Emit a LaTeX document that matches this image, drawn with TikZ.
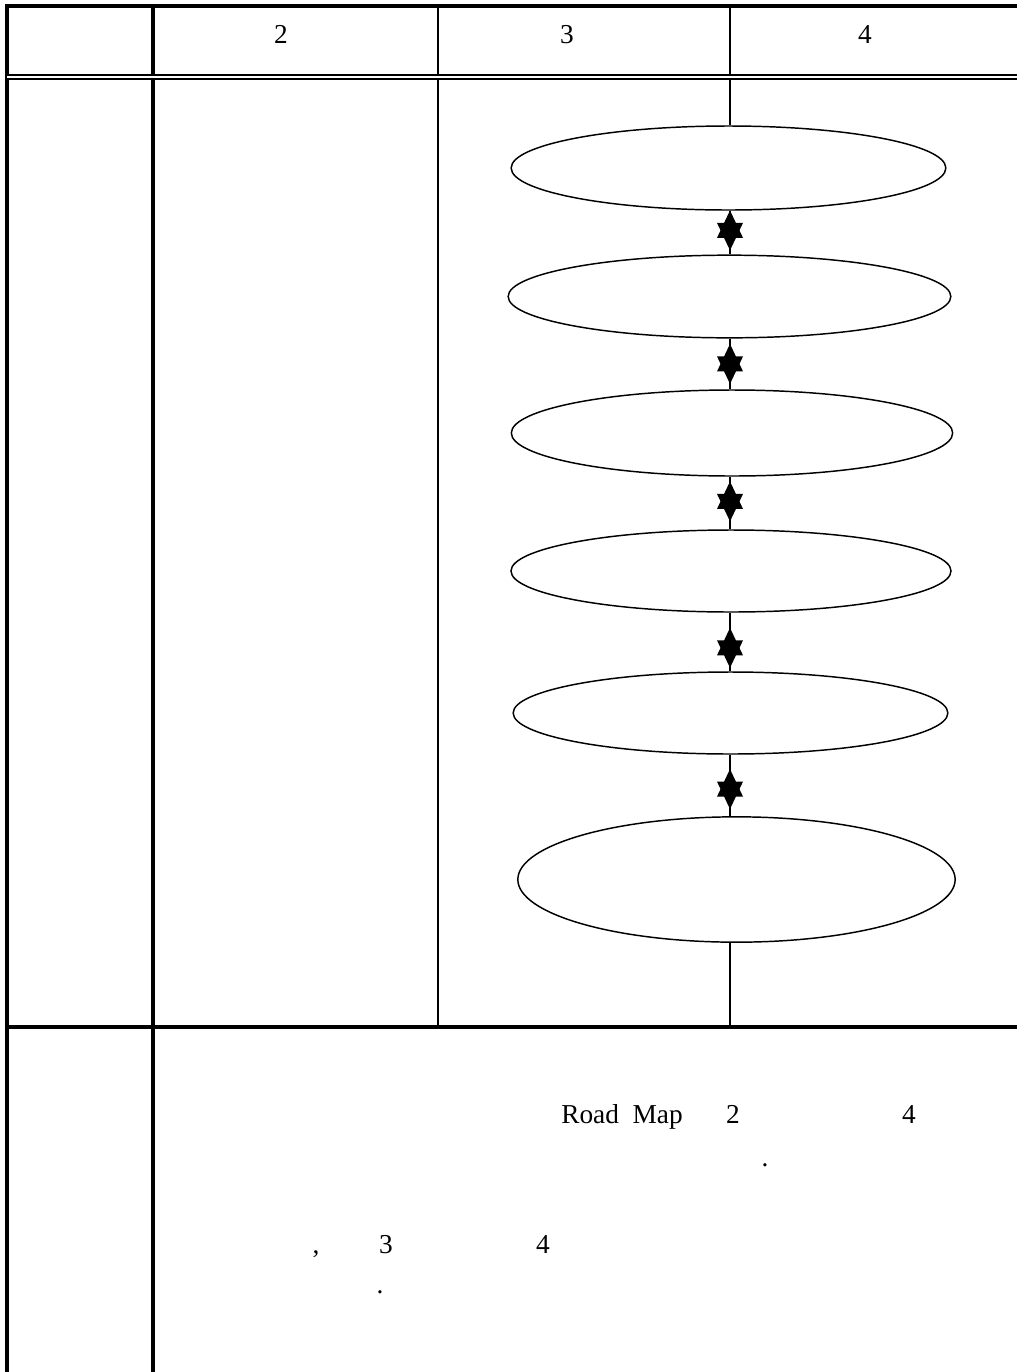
\documentclass[tikz,border=0pt]{standalone}
\usepackage{fontspec}
\setmainfont{Liberation Serif}
\usetikzlibrary{positioning,shapes.geometric}

\tikzset{
  rulethick/.style={line width=3pt},
  ruleleft/.style={line width=2.3pt},
  rulethin/.style={line width=1.1pt},
  stage/.style={draw, ellipse, fill=white, line width=1.1pt, inner sep=0pt},
  cell/.style={anchor=base, inner sep=0pt, font=\fontsize{20.5}{24}\selectfont},
  hexmark/.pic={
    \fill (0,-20) -- (13,7.5) -- (-13,7.5) -- cycle;
    \fill (0,20) -- (13,-7.5) -- (-13,-7.5) -- cycle;
  }
}

\begin{document}
\begin{tikzpicture}[x=0.75pt,y=-0.75pt]
\useasboundingbox (0,0) rectangle (1017,1372);
% Frame of the table
\coordinate []  (TL) at (5,6) ;
\coordinate []  (TR) at (1017,6) ;
\coordinate []  (LB) at (7,1372) ;
\coordinate []  (C1top) at (153,6) ;
\coordinate []  (C1bot) at (153,1372) ;
\coordinate []  (C2top) at (438,6) ;
\coordinate []  (C2bot) at (438,1027) ;
\coordinate []  (C3top) at (730,6) ;
\coordinate []  (HL) at (7,77) ;
\coordinate []  (HR) at (1017,77) ;
\coordinate []  (ML) at (5,1027) ;
\coordinate []  (MR) at (1017,1027) ;
\draw[rulethin] (C2top) -- (C2bot);
\draw[rulethick] (C1top) -- (C1bot);
\draw[ruleleft] (TL -| LB) -- (LB);
\draw[rulethick] (TL) -- (TR);
\draw[rulethick] (ML) -- (MR);
% Header row
\node[cell] (h2) at (281,43) {2};
\node[cell] (h3) at (567,43) {3};
\node[cell] (h4) at (865,43) {4};
% Stages
\node[stage, minimum width=326pt, minimum height=63pt] (e1) at (728.5,168) {};
\node[stage, minimum width=332pt, minimum height=62pt] (e2) at (729.5,296.5) {};
\node[stage, minimum width=331pt, minimum height=64.5pt] (e3) at (732,433) {};
\node[stage, minimum width=330pt, minimum height=61.5pt] (e4) at (731,571) {};
\node[stage, minimum width=326pt, minimum height=61.5pt] (e5) at (730.5,713) {};
\node[stage, minimum width=328pt, minimum height=94pt] (e6) at (736.5,879.5) {};
\draw[rulethin] (C3top) -- (C3top |- e1.north);
\foreach \a/\b/\p in {e1/e2/0.45, e2/e3/0.5, e3/e4/0.47, e4/e5/0.6, e5/e6/0.56} {
  \draw[rulethin] (C3top |- \a.south) -- coordinate[pos=\p] (\a-mk) (C3top |- \b.north);
  \pic at (\a-mk) {hexmark};
}
\draw[rulethin] (C3top |- e6.south) -- (C3top |- ML);
\draw[line width=1.5pt, double, double distance=1.5pt] (HL) -- (HR);
% Remarks
\node[cell, anchor=base west] (road) at (561,1123) {Road~~Map};
\node[cell] (r2) at (733,1123) {2};
\node[cell] (r4) at (909,1123) {4};
\node[cell] (rdot) at (765,1166) {.};
\node[cell] (comma) at (316,1253) {,};
\node[cell] (s3) at (386,1253) {3};
\node[cell] (s4) at (543,1253) {4};
\node[cell] (sdot) at (380,1293) {.};
\end{tikzpicture}
\end{document}
